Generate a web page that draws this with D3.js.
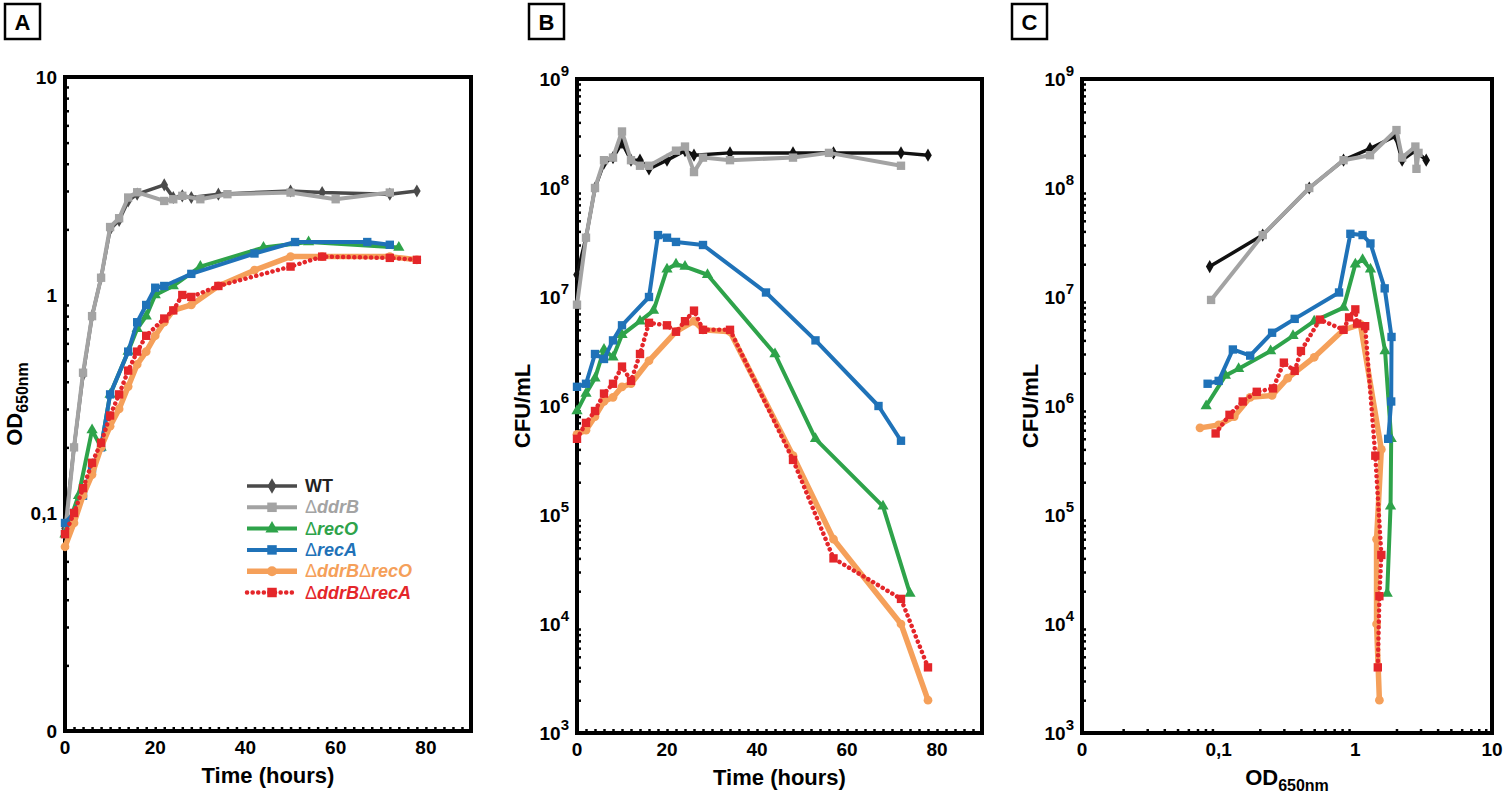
<!DOCTYPE html>
<html><head><meta charset="utf-8">
<script src="https://cdn.jsdelivr.net/npm/d3@7"></script>
<style>body{margin:0;background:#fff}text{font-family:"Liberation Sans",Arial,sans-serif;font-weight:bold}</style>
</head><body><svg id="c" width="1507" height="800"></svg>
<script>
const seriesNames=["WT","ΔddrB","ΔrecO","ΔrecA","ΔddrBΔrecO","ΔddrBΔrecA"];
// Panel A: [time, OD]
const A_WT=[[0,0.085],[2,0.2],[4,0.43],[6,0.8],[8,1.2],[10,2.0],[12,2.2],[14,2.7],[16,2.9],[22,3.2],[24,2.8],[26,2.85],[28,2.8],[34,2.9],[50,3.0],[57,2.95],[72,2.9],[78,3.0]];
const A_ddrB=[[0,0.08],[2,0.2],[4,0.44],[6,0.8],[8,1.2],[10,2.05],[12,2.25],[14,2.8],[16,2.96],[22,2.7],[24,2.75],[26,2.85],[30,2.75],[36,2.9],[50,2.95],[60,2.75],[72,2.95]];
const A_recO=[[0,0.08],[3,0.12],[6,0.24],[8,0.2],[10,0.35],[14,0.55],[16,0.7],[18,0.8],[20,1.0],[24,1.1],[30,1.35],[44,1.65],[54,1.75],[74,1.65]];
const A_recA=[[0,0.09],[2,0.1],[4,0.12],[6,0.16],[8,0.2],[10,0.35],[14,0.55],[16,0.75],[18,0.9],[20,1.08],[22,1.1],[28,1.25],[42,1.55],[51,1.75],[67,1.75],[72,1.7]];
const A_ddrBrecO=[[0,0.07],[2,0.09],[4,0.12],[6,0.15],[8,0.2],[10,0.25],[12,0.3],[14,0.38],[16,0.48],[18,0.55],[20,0.65],[22,0.75],[24,0.85],[28,0.9],[34,1.1],[42,1.3],[50,1.5],[57,1.5],[72,1.5],[78,1.45]];
const A_ddrBrecA=[[0,0.08],[2,0.1],[4,0.13],[6,0.17],[8,0.21],[10,0.28],[12,0.35],[14,0.45],[16,0.55],[18,0.65],[22,0.78],[24,0.85],[26,1.0],[28,0.98],[34,1.1],[50,1.35],[57,1.5],[72,1.48],[78,1.45]];
// Panel B: [time, CFU/mL]
const B_WT=[[0,1.6e7],[2,3.5e7],[4,1e8],[6,1.7e8],[8,1.9e8],[10,2.6e8],[12,1.8e8],[14,1.8e8],[16,1.5e8],[20,1.8e8],[24,2.2e8],[26,2e8],[34,2.1e8],[48,2.1e8],[57,2.1e8],[72,2.1e8],[78,2e8]];
const B_ddrB=[[0,8.5e6],[2,3.5e7],[4,1e8],[6,1.8e8],[8,1.9e8],[10,3.3e8],[12,1.8e8],[14,1.6e8],[16,1.6e8],[22,2.2e8],[24,2.4e8],[26,1.4e8],[28,1.9e8],[34,1.8e8],[48,1.9e8],[56,2.1e8],[72,1.6e8]];
const B_recO=[[0,9e5],[2,1.3e6],[4,1.8e6],[6,3.3e6],[8,2.8e6],[10,4.5e6],[14,6e6],[17,7.5e6],[20,1.8e7],[22,2e7],[24,1.9e7],[29,1.6e7],[44,3e6],[53,5e5],[68,1.2e5],[74,1.9e4]];
const B_recA=[[0,1.5e6],[2,1.6e6],[4,3e6],[6,2.7e6],[8,4e6],[10,5.5e6],[16,1e7],[18,3.7e7],[20,3.5e7],[22,3.2e7],[28,3e7],[42,1.1e7],[53,4e6],[67,1e6],[72,4.8e5]];
const B_ddrBrecO=[[0,5.5e5],[2,6e5],[4,8e5],[6,1.1e6],[8,1.2e6],[10,1.5e6],[12,1.6e6],[16,2.6e6],[22,4.8e6],[26,6e6],[28,5e6],[34,4.8e6],[48,3.5e5],[57,6e4],[72,1e4],[78,2e3]];
const B_ddrBrecA=[[0,5e5],[2,7e5],[4,9e5],[6,1.3e6],[8,1.6e6],[10,2.3e6],[12,1.7e6],[14,3e6],[16,5.8e6],[20,5.5e6],[22,4.8e6],[24,6e6],[26,7.5e6],[28,5e6],[34,5e6],[48,3.2e5],[57,4e4],[72,1.7e4],[78,4e3]];
// Panel C: [OD, CFU/mL]
const C_WT=[[0.086,1.9e7],[0.21,3.7e7],[0.46,1e8],[0.82,1.8e8],[1.28,2.3e8],[1.97,3e8],[2.2,1.8e8],[2.75,2.2e8],[3.3,1.8e8]];
const C_ddrB=[[0.088,9.4e6],[0.21,3.7e7],[0.46,1e8],[0.82,1.8e8],[1.28,2e8],[2.0,3.4e8],[2.2,1.9e8],[2.75,2.4e8],[2.8,1.5e8],[2.9,2.1e8]];
const C_recO=[[0.081,1e6],[0.112,1.9e6],[0.14,2.2e6],[0.24,3.2e6],[0.35,4.4e6],[0.5,6e6],[0.82,8e6],[1.0,2e7],[1.13,2.2e7],[1.29,1.8e7],[1.65,3.2e6],[1.83,5e5],[1.81,1.2e5],[1.71,1.9e4]];
const C_recA=[[0.083,1.6e6],[0.1,1.7e6],[0.127,3.3e6],[0.17,2.9e6],[0.246,4.7e6],[0.36,6.3e6],[0.76,1.1e7],[0.92,3.8e7],[1.13,3.7e7],[1.29,3.1e7],[1.64,1.2e7],[1.84,4.3e6],[1.83,1.1e6],[1.74,5e5]];
const C_ddrBrecO=[[0.073,6.3e5],[0.1,6.7e5],[0.13,8e5],[0.17,1.2e6],[0.246,1.25e6],[0.32,1.8e6],[0.5,2.8e6],[0.82,5e6],[1.09,5.6e6],[1.55,4e5],[1.43,6e4],[1.43,1e4],[1.5,2e3]];
const C_ddrBrecA=[[0.095,5.6e5],[0.12,8.3e5],[0.15,1.1e6],[0.19,1.35e6],[0.25,1.45e6],[0.3,2.5e6],[0.36,2.1e6],[0.4,3.2e6],[0.55,6.2e6],[0.82,5e6],[0.9,6.5e6],[1.0,7.7e6],[1.03,5.7e6],[1.18,5.4e6],[1.4,3.5e5],[1.55,4.3e4],[1.5,1.8e4],[1.46,4e3]];
const timeTicks=[0,20,40,60,80];

const styles=[
 {c:"#4a4a4a",cB:"#111",sym:d3.symbolDiamond,w:3.5,sz:50},
 {c:"#a3a3a3",sym:d3.symbolSquare,w:4,sz:70},
 {c:"#2ea34a",sym:d3.symbolTriangle,w:4,sz:55},
 {c:"#1f72b8",sym:d3.symbolSquare,w:4,sz:70},
 {c:"#f5a05a",sym:d3.symbolCircle,w:5.5,sz:60},
 {c:"#e4262a",sym:d3.symbolSquare,w:4.5,sz:70,dot:true}];
const svg=d3.select("#c");
function panel(o){
 const g=svg.append("g");
 const x=o.x, y=o.y;
 const [x0,x1]=x.range(),[yb,yt]=y.range();
 const ymin=[];const [d0,d1]=y.domain();
 for(let e=Math.round(Math.log10(d0));e<Math.round(Math.log10(d1));e++)for(let k=2;k<10;k++)ymin.push(k*Math.pow(10,e));
 g.append("g").attr("transform",`translate(${x0},0)`).call(d3.axisRight(y).tickValues(ymin).tickSize(4).tickFormat("")).call(s=>s.select(".domain").remove()).selectAll("line").attr("stroke-width",2.5);
 let xmin=[];
 if(o.xlog){const [a,b]=x.domain();for(let e=Math.round(Math.log10(a));e<Math.round(Math.log10(b));e++)for(let k=2;k<10;k++)xmin.push(k*Math.pow(10,e));}
 else{for(let t=2;t<90;t+=2)xmin.push(t);}
 g.append("g").attr("transform",`translate(0,${yb})`).call(d3.axisTop(x).tickValues(xmin).tickSize(4).tickFormat("")).call(s=>s.select(".domain").remove()).selectAll("line").attr("stroke-width",2.5);
 g.append("rect").attr("x",x0).attr("y",yt).attr("width",x1-x0).attr("height",yb-yt).attr("fill","none").attr("stroke","#000").attr("stroke-width",4);
 o.yLabels.forEach(([v,t,sup])=>{const tx=g.append("text").attr("x",x0-8).attr("y",y(v)+7).attr("text-anchor","end").attr("font-size",19).text(t);
  if(sup){tx.append("tspan").attr("font-size",15).attr("dy",-10).text(sup);}});
 o.xLabels.forEach(([v,t])=>g.append("text").attr("x",x(v)).attr("y",yb+23).attr("text-anchor","middle").attr("font-size",19).text(t));
 const line=d3.line().x(d=>x(d[0])).y(d=>y(d[1]));
 o.data.forEach((d,i)=>{const s=styles[i];const col=(o.bBlack&&s.cB)?s.cB:s.c;
  g.append("path").datum(d).attr("d",line).attr("fill","none").attr("stroke",col).attr("stroke-width",s.w).attr("stroke-linejoin","round")
   .attr("stroke-dasharray",s.dot?"0.1 5.5":null).attr("stroke-linecap",s.dot?"round":"butt");
  g.selectAll(null).data(d).join("path").attr("d",d3.symbol(s.sym,s.sz)).attr("transform",p=>`translate(${x(p[0])},${y(p[1])})`).attr("fill",col);
 });
 const yt2=g.append("text").attr("transform",`translate(${o.ytX},${(yt+yb)/2}) rotate(-90)`).attr("text-anchor","middle").attr("font-size",22);
 yt2.text(o.ytitle[0]); if(o.ytitle[1])yt2.append("tspan").attr("font-size",16).attr("dy",6).text(o.ytitle[1]);
 const xt=g.append("text").attr("x",(x0+x1)/2).attr("y",yb+52).attr("text-anchor","middle").attr("font-size",22);
 xt.text(o.xtitle[0]); if(o.xtitle[1])xt.append("tspan").attr("font-size",16).attr("dy",6).text(o.xtitle[1]);
 g.append("rect").attr("x",o.bx).attr("y",4).attr("width",35).attr("height",35).attr("fill","none").attr("stroke","#000").attr("stroke-width",2.5);
 g.append("text").attr("x",o.bx+17.5).attr("y",30).attr("text-anchor","middle").attr("font-size",22).text(o.letter);
}
const tx=d=>d3.scaleLinear().domain([0,90]).range(d);
panel({letter:"A",bx:5,x:tx([65,471]),y:d3.scaleLog().domain([0.01,10]).range([731,77]),
 yLabels:[[10,"10"],[1,"1"],[0.1,"0,1"],[0.01,"0"]],xLabels:timeTicks.map(t=>[t,String(t)]),
 data:[A_WT,A_ddrB,A_recO,A_recA,A_ddrBrecO,A_ddrBrecA],ytX:22,ytitle:["OD","650nm"],xtitle:["Time (hours)"]});
const ycfu=()=>d3.scaleLog().domain([1e3,1e9]).range([733,79]);
const cfuLabels=[3,4,5,6,7,8,9].map(e=>[Math.pow(10,e),"10",String(e)]);
panel({letter:"B",bx:529,x:tx([577,982]),y:ycfu(),yLabels:cfuLabels,xLabels:timeTicks.map(t=>[t,String(t)]),bBlack:true,
 data:[B_WT,B_ddrB,B_recO,B_recA,B_ddrBrecO,B_ddrBrecA],ytX:530,ytitle:["CFU/mL"],xtitle:["Time (hours)"]});
panel({letter:"C",bx:1012,xlog:true,x:d3.scaleLog().domain([0.01,10]).range([1082,1492]),y:ycfu(),yLabels:cfuLabels,xLabels:[[0.01,"0"],[0.1,"0,1"],[1,"1"],[10,"10"]],bBlack:true,
 data:[C_WT,C_ddrB,C_recO,C_recA,C_ddrBrecO,C_ddrBrecA],ytX:1038,ytitle:["CFU/mL"],xtitle:["OD","650nm"]});
const lg=svg.append("g");
seriesNames.forEach((n,i)=>{const s=styles[i];const yy=486+i*21.3;
 lg.append("line").attr("x1",247).attr("x2",297).attr("y1",yy).attr("y2",yy).attr("stroke",s.c).attr("stroke-width",s.w)
  .attr("stroke-dasharray",s.dot?"0.1 5.5":null).attr("stroke-linecap",s.dot?"round":"butt");
 lg.append("path").attr("d",d3.symbol(s.sym,s.sz+20)).attr("transform",`translate(272,${yy})`).attr("fill",s.c);
 const t=lg.append("text").attr("x",305).attr("y",yy+6).attr("font-size",18).attr("fill",i==0?"#222":s.c);
 if(i==0)t.text("WT");else{const parts=n.split("Δ").slice(1);parts.forEach(p=>{t.append("tspan").attr("font-weight","normal").text("Δ");t.append("tspan").attr("font-style","italic").text(p);});}
});
</script></body></html>
